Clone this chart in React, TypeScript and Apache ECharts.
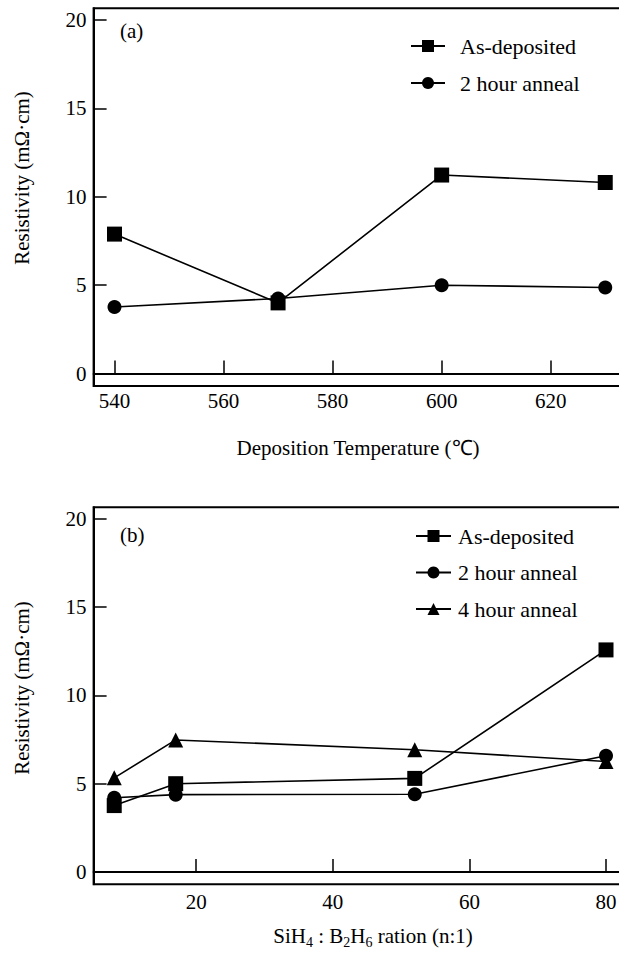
import React, { useEffect, useRef } from "react";
import * as echarts from "echarts";

const tempX = [540, 570, 600, 630];
const asDepA = [7.89, 4.0, 11.23, 10.81];
const anneal2A = [3.77, 4.25, 5.0, 4.87];

const ratioX = [8, 17, 52, 80];
const asDepB = [3.76, 5.0, 5.3, 12.58];
const anneal2B = [4.2, 4.38, 4.4, 6.58];
const anneal4B = [5.33, 7.48, 6.92, 6.26];

const yTicks = [0, 5, 10, 15, 20];
const tempTicks = [540, 560, 580, 600, 620];
const ratioTicks = [20, 40, 60, 80];

const FONT = "Liberation Serif";

export default function App() {
  const ref = useRef<HTMLDivElement>(null);
  useEffect(() => {
    const chart = echarts.init(ref.current!, null, { renderer: "svg" });
    const axisText = { color: "#000", fontFamily: FONT, fontSize: 21 };
    const mkX = (gi: number, min: number, max: number, ticks: number[], margin: number) => ({
      type: "value",
      gridIndex: gi,
      min,
      max,
      axisLine: { show: true, lineStyle: { color: "#000", width: 2 } },
      axisTick: { show: true, inside: true, length: 13, customValues: ticks, lineStyle: { color: "#000", width: 1.5 } },
      axisLabel: { ...axisText, margin, customValues: ticks },
      splitLine: { show: false },
    });
    const mkY = (gi: number) => ({
      type: "value",
      gridIndex: gi,
      min: -0.7,
      max: 20.66,
      axisLine: { show: true, lineStyle: { color: "#000", width: 2 } },
      axisTick: { show: true, inside: true, length: 13, customValues: yTicks, lineStyle: { color: "#000", width: 1.5 } },
      axisLabel: { ...axisText, margin: 7, customValues: yTicks },
      splitLine: { show: false },
    });
    const line = (name: string, xs: number[], ys: number[], gi: number, symbol: string, size: number) => ({
      type: "line",
      name,
      xAxisIndex: gi,
      yAxisIndex: gi,
      data: xs.map((x, i) => [x, ys[i]]),
      symbol,
      symbolSize: size,
      showAllSymbol: true,
      lineStyle: { color: "#000", width: 1.6 },
      itemStyle: { color: "#000", borderWidth: 0 },
    });
    const legendText = { color: "#000", fontFamily: FONT, fontSize: 22, lineHeight: 24 };
    const sub = { fontFamily: FONT, fontSize: 14, color: "#000", padding: [12, 0, 0, 0] };
    const main = { fontFamily: FONT, fontSize: 21, color: "#000" };
    chart.setOption({
      animation: false,
      backgroundColor: "#fff",
      grid: [
        { left: 93.6, top: 8.3, width: 540, height: 377.7, show: true, borderColor: "#000", borderWidth: 2, backgroundColor: "transparent", outerBoundsMode: "none", containLabel: false },
        { left: 93.6, top: 507.3, width: 540, height: 377, show: true, borderColor: "#000", borderWidth: 2, backgroundColor: "transparent", outerBoundsMode: "none", containLabel: false },
      ],
      xAxis: [mkX(0, 536.17, 635.2, tempTicks, 4), mkX(1, 4.98, 84.04, ratioTicks, 7)],
      yAxis: [mkY(0), mkY(1)],
      legend: [
        {
          data: ["As-deposited", "2 hour anneal"],
          orient: "vertical",
          left: 410,
          top: 34,
          padding: 0,
          itemWidth: 34,
          itemHeight: 15,
          itemGap: 13,
          textStyle: { ...legendText, padding: [0, 0, 0, 10] },
          selectedMode: false,
        },
        {
          data: ["As-deposited ", "2 hour anneal ", "4 hour anneal"],
          orient: "vertical",
          left: 415,
          top: 524,
          padding: 0,
          itemWidth: 35,
          itemHeight: 15,
          itemGap: 12.5,
          textStyle: { ...legendText, padding: [0, 0, 0, 2] },
          selectedMode: false,
        },
      ],
      graphic: [
        { type: "text", left: 120, top: 20, style: { text: "(a)", ...main } },
        { type: "text", left: 120, top: 524, style: { text: "(b)", ...main } },
        {
          type: "text",
          x: 21.7,
          y: 178,
          rotation: Math.PI / 2,
          style: { text: "Resistivity (mΩ·cm)", ...main, align: "center", verticalAlign: "middle" },
        },
        {
          type: "text",
          x: 21.7,
          y: 688,
          rotation: Math.PI / 2,
          style: { text: "Resistivity (mΩ·cm)", ...main, align: "center", verticalAlign: "middle" },
        },
        {
          type: "text",
          x: 358,
          y: 448,
          style: { text: "Deposition Temperature (℃)", ...main, align: "center", verticalAlign: "middle" },
        },
        {
          type: "text",
          x: 373,
          y: 936,
          style: {
            text: "SiH{s|4} : B{s|2}H{s|6} ration (n:1)",
            ...main,
            align: "center",
            verticalAlign: "middle",
            rich: { s: sub },
          },
        },
      ],
      series: [
        line("As-deposited", tempX, asDepA, 0, "rect", 15),
        line("2 hour anneal", tempX, anneal2A, 0, "circle", 14),
        line("As-deposited ", ratioX, asDepB, 1, "rect", 15),
        line("2 hour anneal ", ratioX, anneal2B, 1, "circle", 14),
        line("4 hour anneal", ratioX, anneal4B, 1, "triangle", 15),
      ],
    });
    return () => chart.dispose();
  }, []);
  return (
    <div
      ref={ref}
      style={{ position: "fixed", left: 0, top: 0, width: 619, height: 955, background: "#fff" }}
    />
  );
}
